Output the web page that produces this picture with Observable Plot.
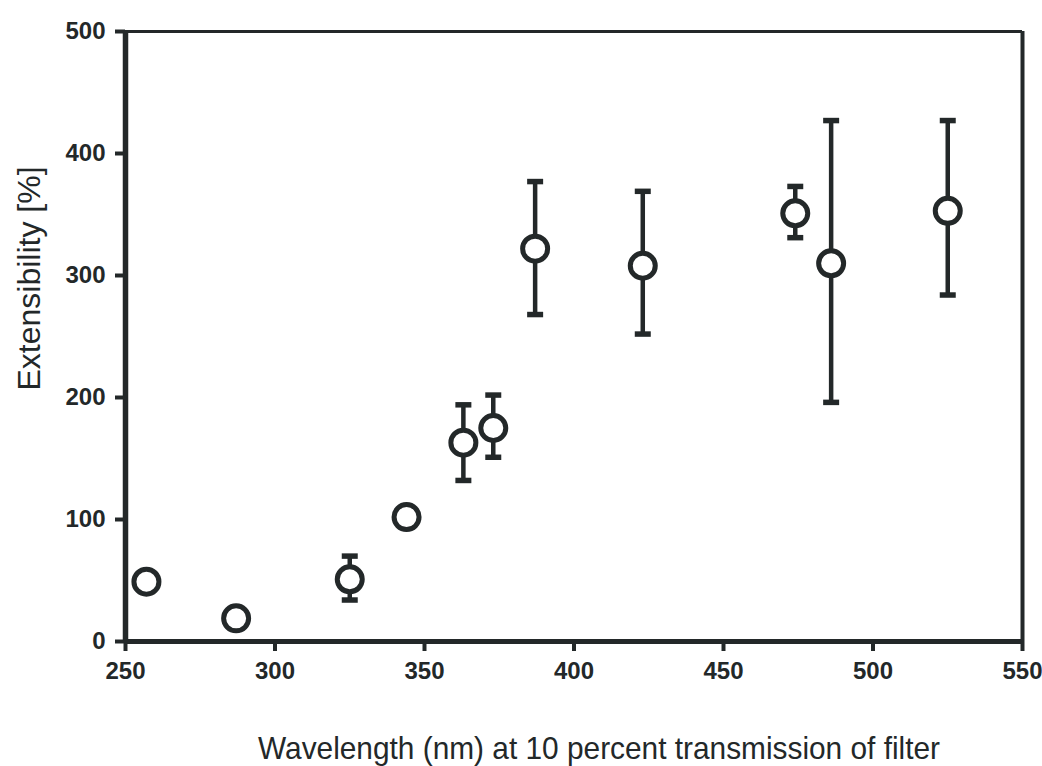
<!DOCTYPE html>
<html>
<head>
<meta charset="utf-8">
<script src="https://cdn.jsdelivr.net/npm/d3@7"></script>
<script src="https://cdn.jsdelivr.net/npm/@observablehq/plot@0.6"></script>
<style>
  html, body { margin: 0; padding: 0; background: #fff; }
</style>
</head>
<body>
<div id="chart"></div>
<script>
// Data
const wavelength = [257, 287, 325, 344, 363, 373, 387, 423, 474, 486, 525];
const extensibility = [49, 19, 51, 102, 163, 175, 322, 308, 351, 310, 353];
const errLow  = [null, null, 34, null, 132, 151, 268, 252, 331, 196, 284];
const errHigh = [null, null, 70, null, 194, 202, 377, 369, 373, 427, 427];
const xTicks = [250, 300, 350, 400, 450, 500, 550];
const yTicks = [0, 100, 200, 300, 400, 500];
const xLabel = "Wavelength (nm) at 10 percent transmission of filter";
const yLabel = "Extensibility [%]";

const points = wavelength.map((w, i) => ({x: w, y: extensibility[i], lo: errLow[i], hi: errHigh[i]}));
const withErr = points.filter(d => d.lo != null);
const ink = "#232829";

const capSymbol = {
  draw(context, size) {
    context.moveTo(-8, 0);
    context.lineTo(8, 0);
  }
};

const chart = Plot.plot({
  width: 1042,
  height: 766,
  marginLeft: 125,
  marginRight: 20,
  marginTop: 31,
  marginBottom: 125,
  x: {domain: [250, 550]},
  y: {domain: [0, 500]},
  style: {fontFamily: "'Liberation Sans', Arial, sans-serif", color: ink, background: "#fff"},
  marks: [
    // frame
    Plot.ruleY([500], {stroke: ink, strokeWidth: 3}),
    Plot.ruleX([550], {stroke: ink, strokeWidth: 4}),
    // axes
    Plot.axisX({ticks: xTicks, tickSize: 10, tickPadding: 10, strokeWidth: 4, stroke: ink, fill: ink, fontSize: 24, fontWeight: "bold", label: null, tickFormat: d => String(d)}),
    Plot.axisY({ticks: yTicks, tickSize: 10, tickPadding: 10, strokeWidth: 4, stroke: ink, fill: ink, fontSize: 24, fontWeight: "bold", label: null, tickFormat: d => String(d)}),
    Plot.ruleY([0], {stroke: ink, strokeWidth: 5}),
    Plot.ruleX([250], {stroke: ink, strokeWidth: 5.5}),
    // error bars
    Plot.ruleX(withErr, {x: "x", y1: "lo", y2: "hi", stroke: ink, strokeWidth: 4.5}),
    Plot.dot(withErr, {x: "x", y: "lo", symbol: capSymbol, stroke: ink, strokeWidth: 5.5, r: 8}),
    Plot.dot(withErr, {x: "x", y: "hi", symbol: capSymbol, stroke: ink, strokeWidth: 5.5, r: 8}),
    // markers
    Plot.dot(points, {x: "x", y: "y", r: 12.5, fill: "#fff", stroke: ink, strokeWidth: 5}),
    // axis titles
    Plot.text([yLabel], {frameAnchor: "left", textAnchor: "middle", rotate: -90, dx: -96, dy: -58, fontSize: 32, fill: ink}),
    Plot.text([xLabel], {frameAnchor: "bottom", lineAnchor: "bottom", dx: 25, dy: 117, fontSize: 32, fill: ink})
  ]
});
document.getElementById("chart").appendChild(chart);

// Condense the x title to match the narrow typeface of the reference
d3.select(chart).selectAll('g[aria-label="text"] text').each(function() {
  if (this.textContent === xLabel) {
    this.setAttribute("textLength", 682);
    this.setAttribute("lengthAdjust", "spacingAndGlyphs");
  }
});
</script>
</body>
</html>
